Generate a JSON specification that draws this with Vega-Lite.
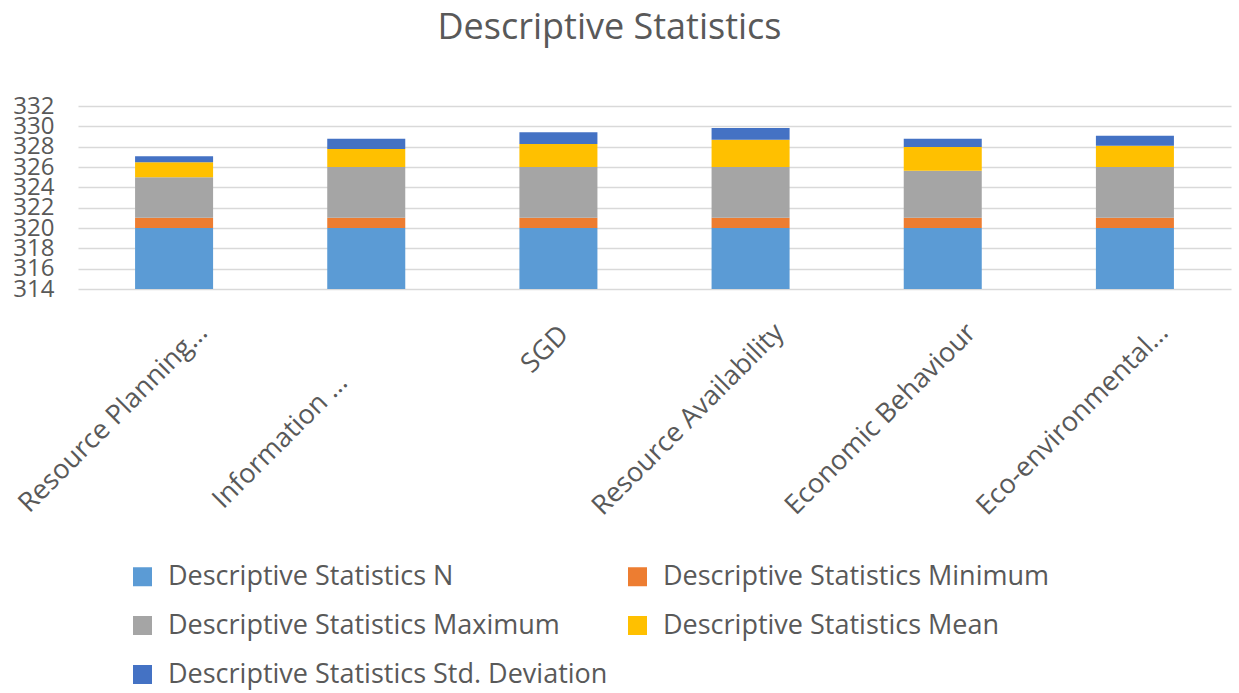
{
  "$schema": "https://vega.github.io/schema/vega-lite/v6.json",
  "autosize": {"type": "none"},
  "width": 1153,
  "height": 183,
  "padding": {"left": 78, "top": 106, "right": 8, "bottom": 404},
  "background": "white",
  "title": {
    "text": "Descriptive Statistics",
    "font": "Open Sans",
    "fontSize": 36,
    "fontWeight": "normal",
    "color": "#595959",
    "anchor": "middle",
    "dx": -45,
    "offset": 47
  },
  "data": {
    "values": [
      {"category": "Resource Planning…", "stat": "Descriptive Statistics N", "ord": 1, "value": 320},
      {"category": "Resource Planning…", "stat": "Descriptive Statistics Minimum", "ord": 2, "value": 1},
      {"category": "Resource Planning…", "stat": "Descriptive Statistics Maximum", "ord": 3, "value": 4},
      {"category": "Resource Planning…", "stat": "Descriptive Statistics Mean", "ord": 4, "value": 1.46},
      {"category": "Resource Planning…", "stat": "Descriptive Statistics Std. Deviation", "ord": 5, "value": 0.59},
      {"category": "Information …", "stat": "Descriptive Statistics N", "ord": 1, "value": 320},
      {"category": "Information …", "stat": "Descriptive Statistics Minimum", "ord": 2, "value": 1},
      {"category": "Information …", "stat": "Descriptive Statistics Maximum", "ord": 3, "value": 5},
      {"category": "Information …", "stat": "Descriptive Statistics Mean", "ord": 4, "value": 1.77},
      {"category": "Information …", "stat": "Descriptive Statistics Std. Deviation", "ord": 5, "value": 1.02},
      {"category": "SGD", "stat": "Descriptive Statistics N", "ord": 1, "value": 320},
      {"category": "SGD", "stat": "Descriptive Statistics Minimum", "ord": 2, "value": 1},
      {"category": "SGD", "stat": "Descriptive Statistics Maximum", "ord": 3, "value": 5},
      {"category": "SGD", "stat": "Descriptive Statistics Mean", "ord": 4, "value": 2.26},
      {"category": "SGD", "stat": "Descriptive Statistics Std. Deviation", "ord": 5, "value": 1.15},
      {"category": "Resource Availability", "stat": "Descriptive Statistics N", "ord": 1, "value": 320},
      {"category": "Resource Availability", "stat": "Descriptive Statistics Minimum", "ord": 2, "value": 1},
      {"category": "Resource Availability", "stat": "Descriptive Statistics Maximum", "ord": 3, "value": 5},
      {"category": "Resource Availability", "stat": "Descriptive Statistics Mean", "ord": 4, "value": 2.69},
      {"category": "Resource Availability", "stat": "Descriptive Statistics Std. Deviation", "ord": 5, "value": 1.15},
      {"category": "Economic Behaviour", "stat": "Descriptive Statistics N", "ord": 1, "value": 320},
      {"category": "Economic Behaviour", "stat": "Descriptive Statistics Minimum", "ord": 2, "value": 1},
      {"category": "Economic Behaviour", "stat": "Descriptive Statistics Maximum", "ord": 3, "value": 4.64},
      {"category": "Economic Behaviour", "stat": "Descriptive Statistics Mean", "ord": 4, "value": 2.33},
      {"category": "Economic Behaviour", "stat": "Descriptive Statistics Std. Deviation", "ord": 5, "value": 0.82},
      {"category": "Eco-environmental…", "stat": "Descriptive Statistics N", "ord": 1, "value": 320},
      {"category": "Eco-environmental…", "stat": "Descriptive Statistics Minimum", "ord": 2, "value": 1},
      {"category": "Eco-environmental…", "stat": "Descriptive Statistics Maximum", "ord": 3, "value": 5},
      {"category": "Eco-environmental…", "stat": "Descriptive Statistics Mean", "ord": 4, "value": 2.1},
      {"category": "Eco-environmental…", "stat": "Descriptive Statistics Std. Deviation", "ord": 5, "value": 0.98}
    ]
  },
  "mark": {"type": "bar", "clip": true},
  "encoding": {
    "x": {
      "field": "category",
      "type": "nominal",
      "sort": null,
      "scale": {"paddingInner": 0.594, "paddingOuter": 0.297},
      "axis": {
        "title": null,
        "labelAngle": -45,
        "labelAlign": "right",
        "labelBaseline": "middle",
        "labelFont": "Open Sans",
        "labelFontSize": 27,
        "labelColor": "#595959",
        "labelLimit": 0,
        "labelOffset": {
          "condition": [
            {"test": "datum.label === 'SGD'", "value": 6},
            {"test": "length(datum.label) > 15", "value": 29}
          ],
          "value": -23
        },
        "labelPadding": {
          "condition": [
            {"test": "datum.label === 'SGD'", "value": 41},
            {"test": "length(datum.label) > 15", "value": 39}
          ],
          "value": 89
        },
        "ticks": false,
        "domain": false
      }
    },
    "y": {
      "field": "value",
      "type": "quantitative",
      "stack": "zero",
      "scale": {"domain": [314, 332], "zero": false, "nice": false},
      "axis": {
        "title": null,
        "values": [314, 316, 318, 320, 322, 324, 326, 328, 330, 332],
        "labelFont": "Open Sans",
        "labelFontSize": 24,
        "labelColor": "#595959",
        "labelOverlap": false,
        "labelPadding": 24,
        "ticks": false,
        "domain": false,
        "grid": true,
        "gridColor": "#D9D9D9",
        "gridWidth": 1.5
      }
    },
    "color": {
      "field": "stat",
      "type": "nominal",
      "scale": {
        "domain": ["Descriptive Statistics N", "Descriptive Statistics Minimum", "Descriptive Statistics Maximum", "Descriptive Statistics Mean", "Descriptive Statistics Std. Deviation"],
        "range": ["#5B9BD5", "#ED7D31", "#A5A5A5", "#FFC000", "#4472C4"]
      },
      "legend": {
        "title": null,
        "orient": "none",
        "direction": "horizontal",
        "legendX": 51,
        "legendY": 457,
        "columns": 2,
        "columnPadding": 16,
        "rowPadding": 21,
        "symbolType": "square",
        "symbolSize": 361,
        "symbolStrokeWidth": 0,
        "symbolOffset": 0,
        "labelOffset": 12,
        "labelFont": "Open Sans",
        "labelFontSize": 27,
        "labelColor": "#595959",
        "labelLimit": 0
      }
    },
    "order": {"field": "ord", "type": "quantitative"}
  },
  "config": {"view": {"stroke": null}}
}
